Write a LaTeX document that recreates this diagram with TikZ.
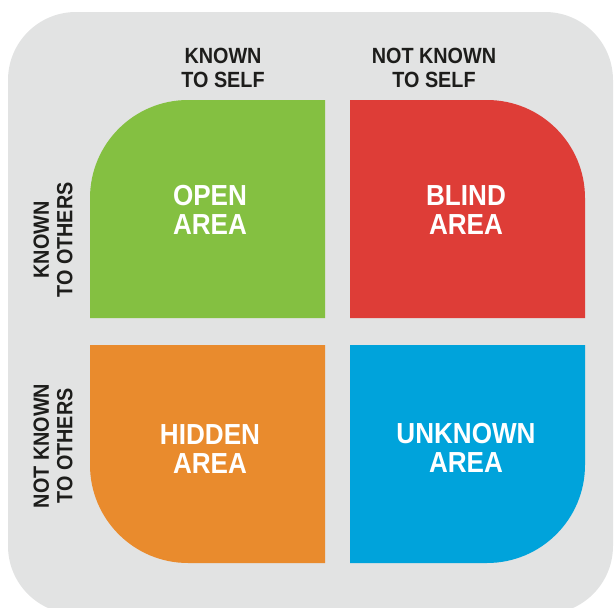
\documentclass[tikz,border=0pt]{standalone}
\usepackage{fontspec}
\setmainfont{Liberation Sans}
\newfontfamily\narrowsans[FakeStretch=0.9]{Liberation Sans}
\definecolor{bggray}{HTML}{E2E3E3}
\definecolor{qgreen}{HTML}{84C041}
\definecolor{qred}{HTML}{DE3D37}
\definecolor{qorange}{HTML}{E98B2D}
\definecolor{qblue}{HTML}{00A3DB}
\definecolor{labtext}{HTML}{1D1D1B}
\begin{document}
\begin{tikzpicture}[x=1pt,y=-1pt,
  quadlabel/.style={text=white,align=center,inner sep=0pt,
    font=\narrowsans\fontsize{29}{29.5}\selectfont\bfseries},
  axislabel/.style={text=labtext,align=center,inner sep=0pt,
    font=\narrowsans\fontsize{22}{23.5}\selectfont\bfseries}]
\useasboundingbox (0,0) rectangle (614,608);
\fill[bggray,rounded corners=68pt] (8,12) rectangle (613,614);
% quadrants
\fill[qgreen] (90,318) [rounded corners=98pt] -- (90,100) [sharp corners] -- (325,100) -- (325,318) -- cycle;
\fill[qred] (350,100) [rounded corners=98pt] -- (585,100) [sharp corners] -- (585,318) -- (350,318) -- cycle;
\fill[qorange] (90,345) [rounded corners=98pt] -- (90,563) [sharp corners] -- (325,563) -- (325,345) -- cycle;
\fill[qblue] (350,345) -- (585,345) [rounded corners=98pt] -- (585,563) [sharp corners] -- (350,563) -- cycle;
% quadrant labels
\node[quadlabel] (open) at (210,210) {OPEN\\AREA};
\node[quadlabel] (blind) at (466,210) {BLIND\\AREA};
\node[quadlabel] (hidden) at (210,449) {HIDDEN\\AREA};
\node[quadlabel] (unknown) at (466,448) {UNKNOWN\\AREA};
% axis labels
\node[axislabel] (kself) at (223,68) {KNOWN\\TO SELF};
\node[axislabel] (nkself) at (434,68) {NOT KNOWN\\TO SELF};
\node[axislabel,rotate=90] (kothers) at (53,240) {KNOWN\\TO OTHERS};
\node[axislabel,rotate=90] (nkothers) at (53,446) {NOT KNOWN\\TO OTHERS};
\end{tikzpicture}
\end{document}
